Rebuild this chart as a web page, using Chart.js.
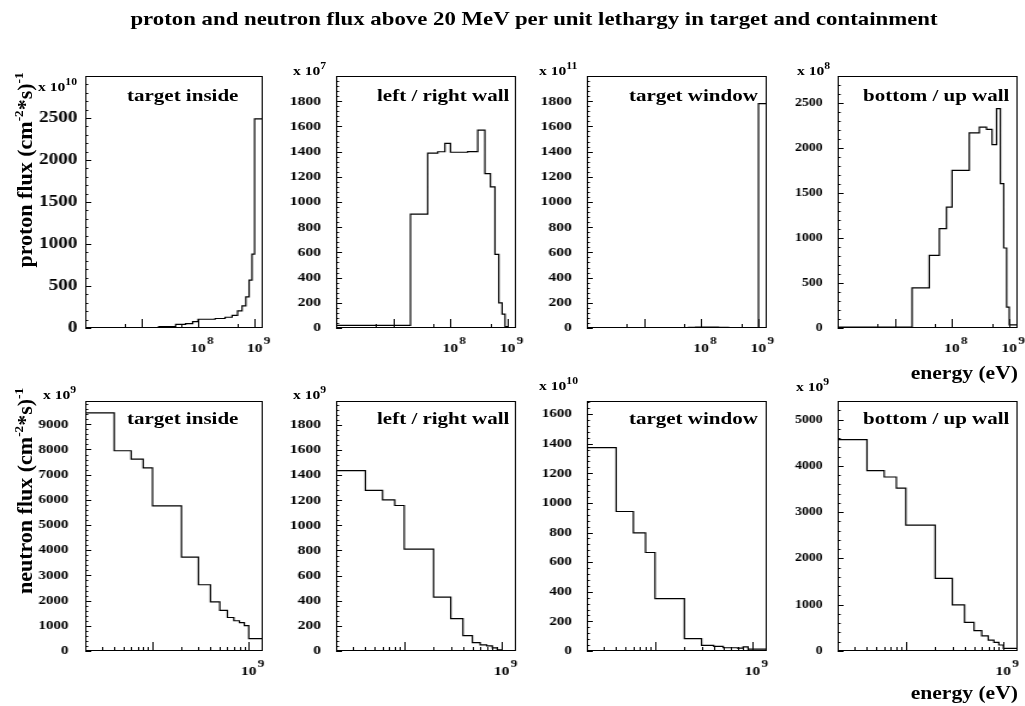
<!DOCTYPE html>
<html>
<head>
<meta charset="utf-8">
<title>proton and neutron flux</title>
<script src="https://cdn.jsdelivr.net/npm/chart.js@4.4.1/dist/chart.umd.min.js"></script>
<style>
  html, body { margin: 0; padding: 0; background: #fff; }
  body { width: 1025px; height: 706px; position: relative; overflow: hidden;
         font-family: "Liberation Serif", "Times New Roman", serif; font-weight: bold; color: #000; }
  /* the ROOT canvas is stretched sideways, so the whole sheet is too */
  #page { position: absolute; left: 0; top: 0; width: 855px; height: 706px;
          transform: scaleX(1.2); transform-origin: 0 0; }
  .txt { position: absolute; white-space: nowrap; line-height: 1; }
  .txt sup { font-size: 0.75em; vertical-align: 0; position: relative; top: -0.6em; }
  canvas { position: absolute; }
  .ytitle { position: absolute; white-space: nowrap; line-height: 1; font-size: 22px;
            transform: translate(-50%, -50%) rotate(-90deg); }
  .ytitle sup { font-size: 0.6em; vertical-align: 0; position: relative; top: -0.7em; }
</style>
</head>
<body>
<div id="page"></div>
<div class="ytitle" style="left:25px; top:170px;">proton flux (cm<sup>-2</sup>*s)<sup>-1</sup></div>
<div class="ytitle" style="left:25px; top:491px;">neutron flux (cm<sup>-2</sup>*s)<sup>-1</sup></div>
<script>
const SX = 1.2;

// bin edges in MeV (lethargy bins); neutrons are only shown above 20 MeV
const edgesMeV = [1, 20, 40, 60, 80, 100, 200, 300, 400, 500, 600, 700, 800, 900, 1000, 1400];
const neutronEdgesMeV = edgesMeV.slice(1);

// proton flux per bin, in units of the exponent printed above each panel
const pTargetInside = [0, 16, 44, 52, 76, 104, 113, 128, 150, 203, 263, 370, 570, 880, 2490];
const pSideWall     = [21, 903, 1388, 1399, 1466, 1395, 1400, 1570, 1225, 1120, 585, 200, 110, 12, 3];
const pWindow       = [0, 2, 4, 6, 8, 8, 5, 3, 2, 2, 2, 2, 2, 3, 1780];
const pBottomWall   = [10, 445, 807, 1104, 1344, 1752, 2167, 2233, 2207, 2037, 2437, 1604, 889, 233, 35];

// neutron flux per bin, 20 MeV .. 1.4 GeV
const nTargetInside = [9450, 7950, 7620, 7270, 5760, 3730, 2630, 1950, 1610, 1330, 1200, 1130, 1010, 490];
const nSideWall     = [1435, 1279, 1203, 1158, 811, 429, 257, 122, 66, 48, 40, 25, 10, 4];
const nWindow       = [1373, 942, 798, 665, 353, 83, 38, 31, 22, 22, 20, 28, 12, 13];
const nBottomWall   = [4570, 3900, 3760, 3520, 2720, 1570, 995, 620, 440, 325, 237, 187, 130, 58];

// energy axis ticks (eV)
const topMajorTicks = [1e7, 1e8, 1e9];
const topMinorTicks = [5e6, 5e7, 5e8];
const topTickLabels = [8, 9];
const botMajorTicks = [1e8, 1e9];
const botMinorTicks = [3e7, 4e7, 5e7, 6e7, 7e7, 8e7, 9e7, 2e8, 3e8, 4e8, 5e8, 6e8, 7e8, 8e8, 9e8];
const botTickLabels = [9];

const panelNames = ['target inside', 'left / right wall', 'target window', 'bottom / up wall'];
const protonExpo = ['10', '7', '11', '8'];
const neutronExpo = ['9', '9', '10', '9'];

const panels = [
  {row: 0, col: 0, values: pTargetInside, ymax: 3000, major: 500, minor: 100},
  {row: 0, col: 1, values: pSideWall,     ymax: 2000, major: 200, minor: 40},
  {row: 0, col: 2, values: pWindow,       ymax: 2000, major: 200, minor: 40},
  {row: 0, col: 3, values: pBottomWall,   ymax: 2800, major: 500, minor: 100},
  {row: 1, col: 0, values: nTargetInside, ymax: 9925, major: 1000, minor: 200},
  {row: 1, col: 1, values: nSideWall,     ymax: 1990, major: 200, minor: 40},
  {row: 1, col: 2, values: nWindow,       ymax: 1688, major: 200, minor: 40},
  {row: 1, col: 3, values: nBottomWall,   ymax: 5403, major: 1000, minor: 200}
];

// frame edges on the sheet (px)
const frameX = [[85, 263], [336, 516], [587, 767], [838, 1018]];
const frameY = [[76, 328], [401, 651]];
const expoPos = [[[38, 86], [293, 70], [539, 70], [797, 70]], [[43, 394], [293, 394], [539, 385], [796, 386]]];
const namePos = [127, 377, 629, 863];
const nameY = [96, 419];
// y tick label size and gap to the frame, per pad (ROOT scales text with the pad)
const tickFont = [[16, 13, 13, 11.5], [12.5, 13, 12.5, 11.5]];
const tickGap = [[6.5, 12.5, 12.5, 12.5], [14, 12.5, 12.5, 12.5]];

const AXW = 56, PADT = 6, PADR = 14, PADB = 40;
const FONT = '"Liberation Serif", "Times New Roman", serif';

const page = document.getElementById('page');

function addText(html, x, y, size, anchor) {
  const d = document.createElement('div');
  d.className = 'txt';
  d.innerHTML = html;
  d.style.fontSize = size + 'px';
  d.style.left = (x / SX) + 'px';
  d.style.top = y + 'px';
  const tx = anchor === 'center' ? '-50%' : anchor === 'right' ? '-100%' : '0';
  d.style.transform = 'translate(' + tx + ', -50%)';
  page.appendChild(d);
}

function histPoints(edges, values) {
  const last = edges.length - 1;
  const pts = [{x: edges[0] * 1e6, y: 0}];
  values.forEach((v, i) => pts.push({x: edges[i] * 1e6, y: v}));
  pts.push({x: edges[last] * 1e6, y: values[values.length - 1]});
  pts.push({x: edges[last] * 1e6, y: 0});
  return pts;
}

// ROOT style frame: box, inward tick marks, 10^n labels under the energy axis
const rootFrame = {
  id: 'rootFrame',
  afterDatasetsDraw(chart, args, o) {
    const {ctx, chartArea: a, scales: {x, y}} = chart;
    ctx.save();
    ctx.strokeStyle = '#000';
    ctx.lineWidth = 1;
    ctx.strokeRect(a.left + 0.5, a.top + 0.5, a.right - a.left - 1, a.bottom - a.top - 1);
    ctx.beginPath();
    y.ticks.forEach(t => {
      const v = t.value;
      const py = Math.round(y.getPixelForValue(v)) + 0.5;
      const len = v % o.major === 0 ? 5 : 2.5;
      ctx.moveTo(a.left, py);
      ctx.lineTo(a.left + len, py);
    });
    o.majorTicks.forEach(v => {
      const px = Math.round(x.getPixelForValue(v)) + 0.5;
      ctx.moveTo(px, a.bottom);
      ctx.lineTo(px, a.bottom - 9);
    });
    o.minorTicks.forEach(v => {
      const px = Math.round(x.getPixelForValue(v)) + 0.5;
      ctx.moveTo(px, a.bottom);
      ctx.lineTo(px, a.bottom - 4);
    });
    ctx.stroke();

    ctx.fillStyle = '#000';
    ctx.textBaseline = 'alphabetic';
    o.labels.forEach(e => {
      const px = x.getPixelForValue(Math.pow(10, e));
      ctx.font = 'bold 13px ' + FONT;
      ctx.textAlign = 'center';
      const w = ctx.measureText('10').width;
      ctx.fillText('10', px, a.bottom + 24);
      ctx.font = 'bold 11px ' + FONT;
      ctx.textAlign = 'left';
      ctx.fillText(String(e), px + w / 2 + 1, a.bottom + 16);
    });
    ctx.restore();
  }
};

panels.forEach(p => {
  const [L, R] = frameX[p.col];
  const [T, B] = frameY[p.row];
  const left = Math.round(L / SX) - AXW;
  const w = Math.round(R / SX) - Math.round(L / SX) + AXW + PADR;
  const h = B - T + PADT + PADB;
  const cv = document.createElement('canvas');
  cv.width = w;
  cv.height = h;
  cv.style.left = left + 'px';
  cv.style.top = (T - PADT) + 'px';
  cv.style.width = w + 'px';
  cv.style.height = h + 'px';
  page.appendChild(cv);

  const top = p.row === 0;
  const edges = top ? edgesMeV : neutronEdgesMeV;

  new Chart(cv, {
    type: 'line',
    data: {
      datasets: [{
        data: histPoints(edges, p.values),
        stepped: 'before',
        borderColor: '#000',
        borderWidth: 1.2,
        pointRadius: 0,
        fill: false
      }]
    },
    options: {
      responsive: false,
      animation: false,
      devicePixelRatio: 1,
      layout: {padding: {top: PADT, right: PADR, bottom: PADB, left: 0}},
      plugins: {
        legend: {display: false},
        tooltip: {enabled: false},
        rootFrame: {
          major: p.major,
          majorTicks: top ? topMajorTicks : botMajorTicks,
          minorTicks: top ? topMinorTicks : botMinorTicks,
          labels: top ? topTickLabels : botTickLabels
        }
      },
      scales: {
        x: {type: 'logarithmic', display: false, min: edges[0] * 1e6, max: 1.4e9},
        y: {
          type: 'linear', min: 0, max: p.ymax,
          grid: {display: false, drawTicks: false},
          border: {display: false},
          afterBuildTicks: s => {
            const list = [];
            for (let v = 0; v < p.ymax; v += p.minor) list.push({value: v});
            s.ticks = list;
          },
          ticks: {
            autoSkip: false, padding: tickGap[p.row][p.col], color: '#000',
            font: {family: FONT, weight: 'bold', size: tickFont[p.row][p.col]},
            callback: v => (v % p.major === 0 ? String(v) : '')
          },
          afterFit: s => {
            s.width = AXW;
            s.paddingTop = 0;
            s.paddingBottom = 0;
          }
        }
      }
    },
    plugins: [rootFrame]
  });

  const [ex, ey] = expoPos[p.row][p.col];
  addText('x 10<sup>' + (top ? protonExpo : neutronExpo)[p.col] + '</sup>', ex, ey, 13, 'left');
  addText(panelNames[p.col], namePos[p.col], nameY[p.row], 17.5, 'left');
});

addText('proton and neutron flux above 20 MeV per unit lethargy in target and containment', 534, 18, 19, 'center');
addText('energy (eV)', 1018, 373, 18, 'right');
addText('energy (eV)', 1018, 693, 18, 'right');
</script>
</body>
</html>
